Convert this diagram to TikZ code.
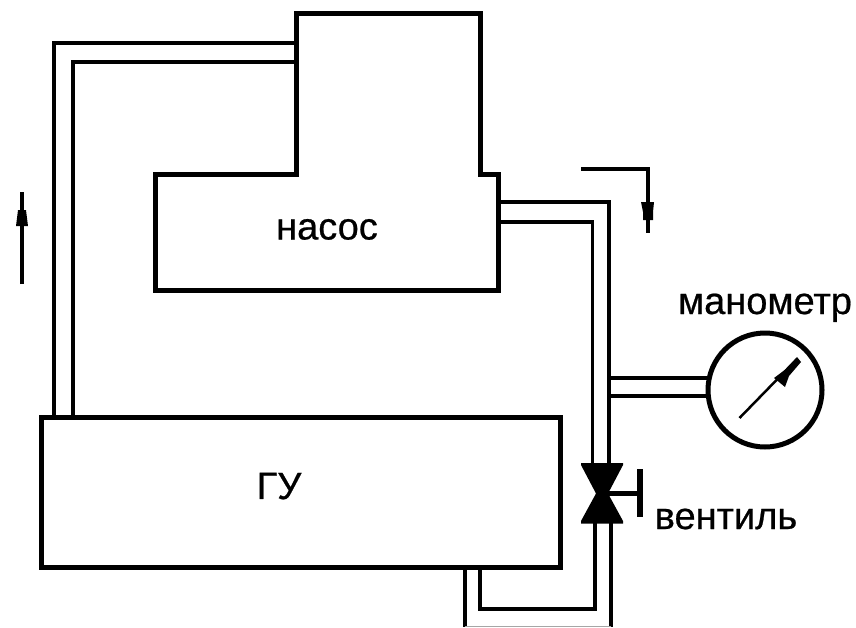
\documentclass[tikz,border=0pt]{standalone}
\usepackage{fontspec}
\setmainfont[FakeBold=0.6]{Liberation Sans}
\tikzset{
  box/.style={draw=black,line width=5pt,line join=miter,rectangle,inner sep=0pt,outer sep=0pt,minimum width=#1},
  pipe/.style={draw=black,line width=3.5pt,line join=miter},
  flow/.style={draw=black,line width=4pt},
  tip/.style={fill=black,draw=none},
  label/.style={font=\fontsize{38}{40}\selectfont,inner sep=0pt,outer sep=0pt,text=black,anchor=base}
}
\begin{document}
\begin{tikzpicture}[x=1pt,y=-1pt]
\useasboundingbox (0,0) rectangle (856,627);
% pump outline
\draw[box] (296,13) -- (480,13) -- (480,174) -- (498,174) -- (498,290) -- (155,290) -- (155,174) -- (296,174) -- cycle;
% GU
\node[box=519pt,minimum height=150pt,anchor=north west] (gu) at (41,417.5) {};
% manometer
\node[circle,draw=black,line width=5pt,minimum size=114pt,inner sep=0pt,outer sep=0pt] (man) at (765,390) {};
% anchors on the pump and the valve
\coordinate (pa) at (296,43);
\coordinate (pb) at (296,62);
\coordinate (pc) at (498,202);
\coordinate (pd) at (498,222);
% left pipe
\draw[pipe] (pa) -- (54,43) -- (54,417);
\draw[pipe] (pb) -- (73,62) -- (73,417);
% right pipe
\draw[pipe] (pc) -- (609,202) -- (609,464);
\draw[pipe] (pd) -- (592.5,222) -- (592.5,464);
% gauge branch
\draw[pipe] (609,378) -- (708,378);
\draw[pipe] (609,396) -- (708,396);
% lower pipe
\draw[pipe] (480,568) -- (480,609) -- (595,609) -- (595,523);
\draw[pipe] (465,568) -- (465,627);
\draw[pipe] (611,523) -- (611,627);
\draw[draw=black!35,line width=1.5pt] (465,626.3) -- (611,626.3);
% valve
\fill[tip] (581,463) -- (623,463) -- (623,465) -- (608,493.5) -- (623,521) -- (623,523.5) -- (581,523.5) -- (581,521) -- (596,493.5) -- (581,465) -- cycle;
\draw[line width=4.5pt] (602,493.5) -- (640,493.5);
\draw[line width=6pt] (640,469) -- (640,517);
% flow arrows
\draw[flow] (22,284) -- (22,192);
\fill[tip] (16,226) -- (28,226) -- (27,218) -- (26,210) -- (18,210) -- (17,218) -- cycle;
\draw[flow] (581,169) -- (648,169) -- (648,233);
\fill[tip] (641,202) -- (654,202) -- (653,212) -- (653,220) -- (643,220) -- (643,212) -- cycle;
% needle
\draw[line width=2.5pt] (739.5,418) -- (797,359);
\fill[tip] (797,357) -- (801,362) -- (789,376) -- (785,387) -- (774,378) -- (786,369) -- cycle;
% labels
\node[label] (nasos) at (327,239.5) {насос};
\node[label] (gutxt) at (279,499) {ГУ};
\node[label] (mantxt) at (765,314) {манометр};
\node[label] (ventxt) at (726,529) {вентиль};
\end{tikzpicture}
\end{document}
